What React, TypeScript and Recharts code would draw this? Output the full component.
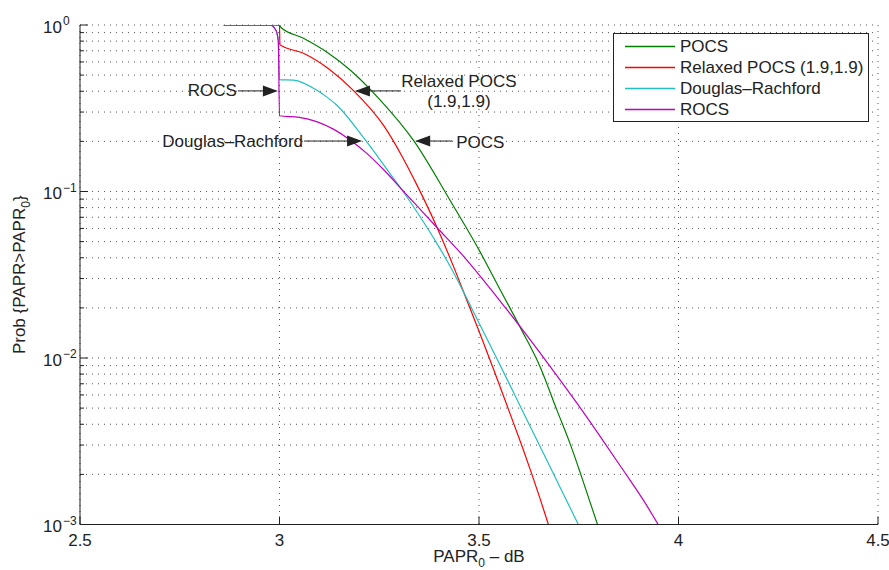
import React from "react";
import { LineChart, Line, XAxis, YAxis, CartesianGrid, Legend, ReferenceDot } from "recharts";

const FONT = '"Liberation Sans", Arial, Helvetica, sans-serif';
const INK = "#222";

// x axis (PAPR0, dB)
const xTicks = [2.5, 3, 3.5, 4, 4.5];
const decades = [0.001, 0.01, 0.1];
const yTicks = decades
  .flatMap((d) => [1, 2, 3, 4, 5, 6, 7, 8, 9].map((m) => +(m * d).toPrecision(3)))
  .concat([1]);

const seriesNames = ["POCS", "Relaxed POCS (1.9,1.9)", "Douglas–Rachford", "ROCS"];
const seriesColors = ["#007f00", "#ff0000", "#22bfbf", "#bf00bf"];

const pocsX = [2.86, 3.0, 3.003, 3.06, 3.12, 3.177, 3.252, 3.335, 3.427, 3.5, 3.553, 3.607, 3.653, 3.695, 3.728, 3.757, 3.797];
const pocsY = [1, 1, 0.97, 0.832, 0.684, 0.537, 0.355, 0.204, 0.0889, 0.0446, 0.0257, 0.0147, 0.00887, 0.00488, 0.00307, 0.00194, 0.001];

const relaxedX = [2.86, 3.0, 3.001, 3.06, 3.127, 3.185, 3.26, 3.31, 3.344, 3.394, 3.436, 3.469, 3.5025, 3.536, 3.578, 3.607, 3.632, 3.653, 3.674];
const relaxedY = [1, 1, 0.76, 0.676, 0.537, 0.405, 0.251, 0.158, 0.11, 0.0615, 0.0355, 0.0224, 0.014, 0.00861, 0.00462, 0.00299, 0.00202, 0.00143, 0.001];

const drX = [2.86, 2.976, 2.991, 2.997, 3.0, 3.035, 3.093, 3.118, 3.143, 3.215, 3.277, 3.319, 3.352, 3.394, 3.43, 3.469, 3.5025, 3.544, 3.586, 3.628, 3.67, 3.711, 3.749];
const drY = [1, 1, 0.93, 0.8, 0.47, 0.467, 0.407, 0.37, 0.331, 0.204, 0.128, 0.093, 0.0708, 0.049, 0.0347, 0.0229, 0.0158, 0.01, 0.00624, 0.00389, 0.00243, 0.00153, 0.001];

const rocsX = [2.86, 2.976, 2.991, 2.997, 3.0, 3.05, 3.093, 3.135, 3.177, 3.218, 3.26, 3.319, 3.394, 3.469, 3.544, 3.607, 3.678, 3.745, 3.812, 3.862, 3.912, 3.949];
const rocsY = [1, 1, 0.93, 0.8, 0.285, 0.279, 0.263, 0.237, 0.204, 0.17, 0.136, 0.0955, 0.061, 0.0389, 0.0234, 0.015, 0.00891, 0.00537, 0.00316, 0.00211, 0.0014, 0.001];

// annotation arrow tips (data coords)
const calloutX = [2.996, 3.189, 3.207, 3.34];
const calloutY = [0.402, 0.402, 0.201, 0.201];
const calloutText = [["ROCS"], ["Relaxed POCS", "(1.9,1.9)"], ["Douglas–Rachford"], ["POCS"]];
const calloutDir = ["right", "left", "right", "left"];
const calloutLen = [40, 46, 58, 37];

const zip = (xs: number[], ys: number[]) => xs.map((x, i) => ({ x, y: ys[i] }));
const series = [zip(pocsX, pocsY), zip(relaxedX, relaxedY), zip(drX, drY), zip(rocsX, rocsY)];

const isMajor = (v: number) => Math.abs(Math.log10(v) - Math.round(Math.log10(v))) < 1e-6;

const XTick = (props: any) => {
  const { x, y, payload } = props;
  return (
    <g>
      <line x1={x} y1={y} x2={x} y2={y - 8} stroke={INK} />
      <text x={x} y={y + 16} textAnchor="middle" dominantBaseline="central" fontSize={17} fontFamily={FONT} fill={INK}>
        {payload.value}
      </text>
    </g>
  );
};

const YTick = (props: any) => {
  const { x, y, payload } = props;
  const v = payload.value;
  if (!isMajor(v)) {
    return <line x1={x} y1={y} x2={x + 4} y2={y} stroke={INK} />;
  }
  const exp = Math.round(Math.log10(v));
  return (
    <g>
      <line x1={x} y1={y} x2={x + 8} y2={y} stroke={INK} />
      <text x={x - 18} y={y + 2} textAnchor="end" dominantBaseline="central" fontSize={17} fontFamily={FONT} fill={INK}>
        10
      </text>
      <text x={x - 17} y={y - 4} textAnchor="start" dominantBaseline="central" fontSize={12} fontFamily={FONT} fill={INK}>
        {exp === 0 ? "0" : "−" + Math.abs(exp)}
      </text>
    </g>
  );
};

const XLabel = (props: any) => {
  const vb = props.viewBox || { x: 80, y: 524.5, width: 798, height: 45.5 };
  const cx = vb.x + vb.width / 2;
  return (
    <text x={cx} y={vb.y + 37} textAnchor="middle" fontSize={17} fontFamily={FONT} fill={INK}>
      <tspan>PAPR</tspan>
      <tspan fontSize={12} dy={5}>0</tspan>
      <tspan dy={-5}>{" – dB"}</tspan>
    </text>
  );
};

const YLabel = (props: any) => {
  const vb = props.viewBox || { x: 0, y: 25, width: 80, height: 499.5 };
  const cx = vb.x + 25;
  const cy = vb.y + vb.height / 2;
  return (
    <text x={cx} y={cy} transform={`rotate(-90, ${cx}, ${cy})`} textAnchor="middle" fontSize={17} fontFamily={FONT} fill={INK}>
      <tspan>{"Prob {PAPR>PAPR"}</tspan>
      <tspan fontSize={12} dy={5}>0</tspan>
      <tspan dy={-5}>{"}"}</tspan>
    </text>
  );
};

const Callout = (props: any) => {
  const { cx, cy, i } = props;
  if (cx == null || cy == null) return null;
  const s = calloutDir[i] === "right" ? 1 : -1;
  const tail = cx - s * calloutLen[i];
  const lines = calloutText[i];
  const head = `${cx},${cy} ${cx - s * 15},${cy - 5.5} ${cx - s * 15},${cy + 5.5}`;
  let label;
  if (lines.length === 2) {
    const mid = tail + 58;
    label = (
      <text textAnchor="middle" fontSize={17} fontFamily={FONT} fill={INK}>
        <tspan x={mid} y={cy - 9.5} dominantBaseline="central">{lines[0]}</tspan>
        <tspan x={mid} y={cy + 10.5} dominantBaseline="central">{lines[1]}</tspan>
      </text>
    );
  } else {
    label = (
      <text
        x={s === 1 ? tail - 1 : tail + 4}
        y={cy + (s === 1 ? 0 : 1.5)}
        textAnchor={s === 1 ? "end" : "start"}
        dominantBaseline="central"
        fontSize={17}
        fontFamily={FONT}
        fill={INK}
      >
        {lines[0]}
      </text>
    );
  }
  return (
    <g>
      <line x1={tail} y1={cy} x2={cx - s * 14} y2={cy} stroke={INK} strokeWidth={1} />
      <polygon points={head} fill={INK} />
      {label}
    </g>
  );
};

const LegendBox = () => (
  <div
    style={{
      width: 256,
      height: 89,
      boxSizing: "border-box",
      border: `1px solid ${INK}`,
      background: "#fff",
      paddingTop: 2,
      fontFamily: FONT,
      fontSize: 17,
      color: INK,
    }}
  >
    {seriesNames.map((n, i) => (
      <div key={n} style={{ display: "flex", alignItems: "center", height: 21 }}>
        <svg width={62} height={21} style={{ flex: "none" }}>
          <line x1={11} x2={61} y1={10.5} y2={10.5} stroke={seriesColors[i]} strokeWidth={1.5} />
        </svg>
        <span style={{ marginLeft: 4, lineHeight: "21px", whiteSpace: "nowrap" }}>{n}</span>
      </div>
    ))}
  </div>
);

export default function App() {
  return (
    <div style={{ position: "absolute", left: 0, top: 0, background: "#fff" }}>
      <LineChart width={889} height={570} margin={{ top: 25, right: 11, bottom: 0, left: 0 }}>
        <CartesianGrid stroke="#555" strokeDasharray="1 5" />
        <XAxis
          type="number"
          dataKey="x"
          domain={[2.5, 4.5]}
          ticks={xTicks}
          interval={0}
          allowDataOverflow
          height={45.5}
          tickSize={0}
          tickMargin={0}
          tickLine={false}
          axisLine={{ stroke: INK }}
          tick={<XTick />}
          label={<XLabel />}
        />
        <YAxis
          type="number"
          dataKey="y"
          scale="log"
          domain={[0.001, 1]}
          ticks={yTicks}
          interval={0}
          allowDataOverflow
          width={80}
          tickSize={0}
          tickMargin={0}
          tickLine={false}
          axisLine={{ stroke: INK }}
          tick={<YTick />}
          label={<YLabel />}
        />
        <Legend
          layout="vertical"
          align="center"
          verticalAlign="middle"
          wrapperStyle={{ left: 613, top: 33, width: 256, height: 89 }}
          content={() => <LegendBox />}
        />
        {series.map((d, i) => (
          <Line
            key={seriesNames[i]}
            data={d}
            dataKey="y"
            name={seriesNames[i]}
            type="monotone"
            stroke={seriesColors[i]}
            strokeWidth={1.2}
            dot={false}
            activeDot={false}
            isAnimationActive={false}
          />
        ))}
        {calloutX.map((x, i) => (
          <ReferenceDot
            key={i}
            x={x}
            y={calloutY[i]}
            r={0}
            ifOverflow="visible"
            shape={(p: any) => <Callout cx={p.cx} cy={p.cy} i={i} />}
          />
        ))}
      </LineChart>
    </div>
  );
}
